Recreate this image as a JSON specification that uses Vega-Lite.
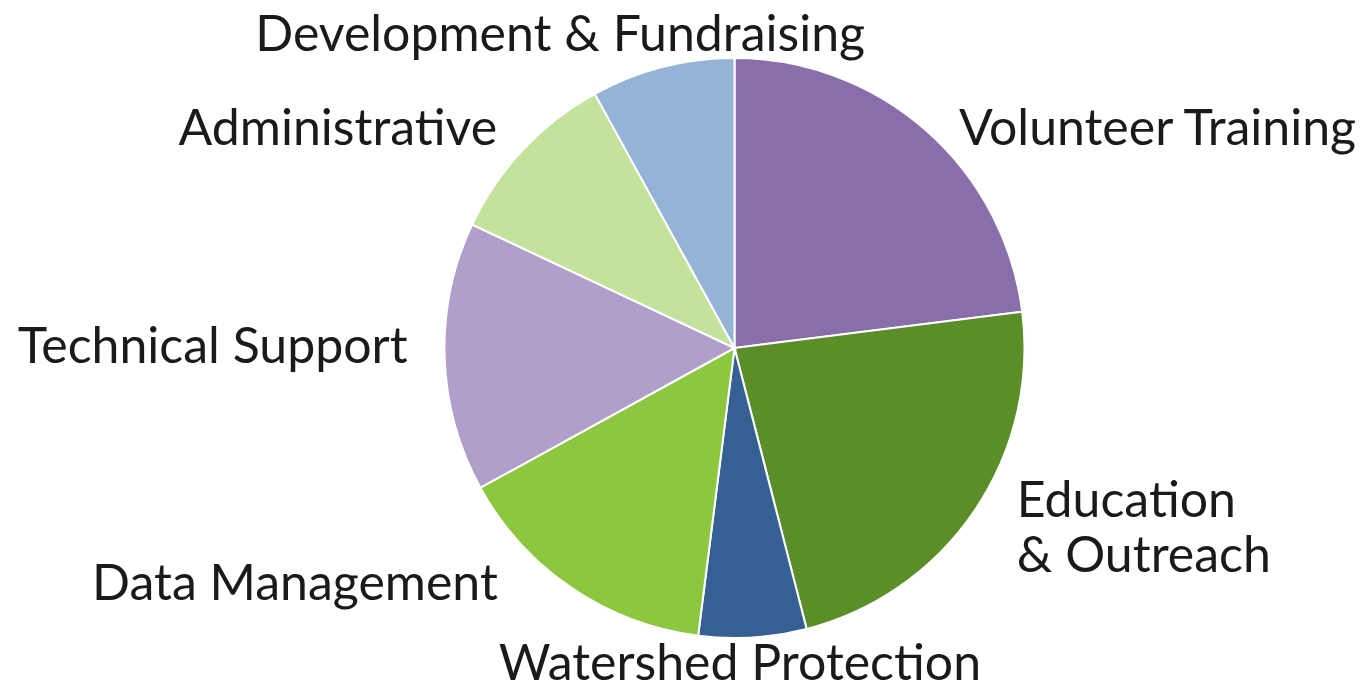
{
  "$schema": "https://vega.github.io/schema/vega-lite/v6.json",
  "width": 1273,
  "height": 694,
  "autosize": "none",
  "padding": {"left": 98, "right": 0, "top": 1, "bottom": 0},
  "background": "white",
  "data": {
    "values": [
      {"cat": "Volunteer Training", "label": "Volunteer Training", "value": 23, "rank": 1},
      {"cat": "Education & Outreach", "label": "Education\n& Outreach", "value": 23, "rank": 2},
      {"cat": "Watershed Protection", "label": "Watershed Protection", "value": 6, "rank": 3},
      {"cat": "Data Management", "label": "Data Management", "value": 15, "rank": 4},
      {"cat": "Technical Support", "label": "Technical Support", "value": 15, "rank": 5},
      {"cat": "Administrative", "label": "Administrative", "value": 10, "rank": 6},
      {"cat": "Development & Fundraising", "label": "Development & Fundraising", "value": 8, "rank": 7}
    ]
  },
  "encoding": {
    "theta": {"field": "value", "type": "quantitative", "stack": true},
    "order": {"field": "rank", "type": "quantitative"}
  },
  "layer": [
    {
      "mark": {"type": "arc", "radius": 290, "stroke": "white", "strokeWidth": 2},
      "encoding": {
        "color": {
          "field": "cat",
          "type": "nominal",
          "scale": {
            "domain": ["Volunteer Training", "Education & Outreach", "Watershed Protection", "Data Management", "Technical Support", "Administrative", "Development & Fundraising"],
            "range": ["#8a6eaa", "#5b8e28", "#365f94", "#8dc63f", "#b09fca", "#c3e29c", "#95b3d7"]
          },
          "legend": null
        }
      }
    },
    {
      "mark": {"type": "text", "radius": 300, "align": "left", "baseline": "alphabetic", "dx": 26, "dy": 22, "fontSize": 50, "font": "Lato", "color": "#1a1a1a"},
      "encoding": {"text": {"condition": {"test": "datum.cat === 'Volunteer Training'", "field": "label", "type": "nominal"}, "value": ""}}
    },
    {
      "mark": {"type": "text", "radius": 328, "align": "left", "baseline": "alphabetic", "dx": 11, "dy": -15, "lineBreak": "\n", "lineHeight": 55, "fontSize": 50, "font": "Lato", "color": "#1a1a1a"},
      "encoding": {"text": {"condition": {"test": "datum.cat === 'Education & Outreach'", "field": "label", "type": "nominal"}, "value": ""}}
    },
    {
      "mark": {"type": "text", "radius": 341, "align": "center", "baseline": "alphabetic", "dx": -16, "dy": -8, "fontSize": 50, "font": "Lato", "color": "#1a1a1a"},
      "encoding": {"text": {"condition": {"test": "datum.cat === 'Watershed Protection'", "field": "label", "type": "nominal"}, "value": ""}}
    },
    {
      "mark": {"type": "text", "radius": 341, "align": "right", "baseline": "alphabetic", "dx": -45, "dy": -30, "fontSize": 50, "font": "Lato", "color": "#1a1a1a"},
      "encoding": {"text": {"condition": {"test": "datum.cat === 'Data Management'", "field": "label", "type": "nominal"}, "value": ""}}
    },
    {
      "mark": {"type": "text", "radius": 327, "align": "right", "baseline": "alphabetic", "dx": 0, "dy": 5, "fontSize": 50, "font": "Lato", "color": "#1a1a1a"},
      "encoding": {"text": {"condition": {"test": "datum.cat === 'Technical Support'", "field": "label", "type": "nominal"}, "value": ""}}
    },
    {
      "mark": {"type": "text", "radius": 312, "align": "right", "baseline": "alphabetic", "dx": -10, "dy": 11, "fontSize": 50, "font": "Lato", "color": "#1a1a1a"},
      "encoding": {"text": {"condition": {"test": "datum.cat === 'Administrative'", "field": "label", "type": "nominal"}, "value": ""}}
    },
    {
      "mark": {"type": "text", "radius": 331, "align": "center", "baseline": "alphabetic", "dx": -92, "dy": 24, "fontSize": 50, "font": "Lato", "color": "#1a1a1a"},
      "encoding": {"text": {"condition": {"test": "datum.cat === 'Development & Fundraising'", "field": "label", "type": "nominal"}, "value": ""}}
    }
  ],
  "config": {"view": {"stroke": null}}
}
